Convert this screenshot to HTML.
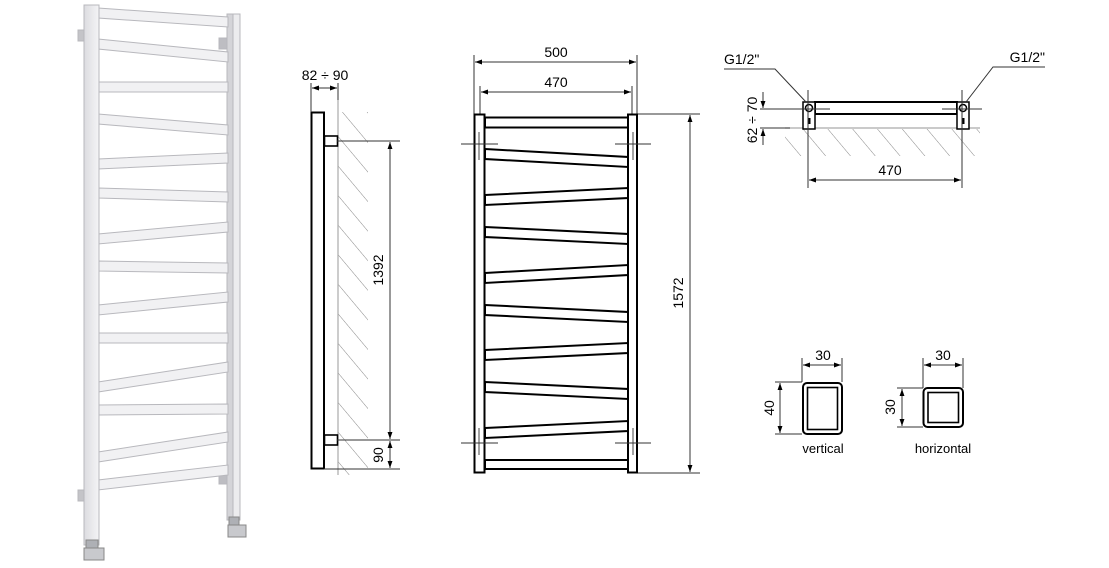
<!DOCTYPE html>
<html><head><meta charset="utf-8"><style>
html,body{margin:0;padding:0;background:#fff;}
svg{display:block;font-family:"Liberation Sans","DejaVu Sans",sans-serif;}
</style></head><body>
<svg width="1109" height="568" viewBox="0 0 1109 568" xmlns="http://www.w3.org/2000/svg">
<defs>
<marker id="a" viewBox="0 0 10 10" refX="10" refY="5" markerWidth="9" markerHeight="7" orient="auto-start-reverse" markerUnits="userSpaceOnUse"><path d="M0,1.5 L10,5 L0,8.5z" fill="#000"/></marker>
<pattern id="h" width="19" height="19" patternUnits="userSpaceOnUse" patternTransform="rotate(-40)"><line x1="0" y1="0" x2="0" y2="19" stroke="#888" stroke-width="1"/></pattern>
<linearGradient id="v" x1="0" x2="1"><stop offset="0" stop-color="#dcdce0"/><stop offset="1" stop-color="#f4f4f6"/></linearGradient>
</defs>

<!-- PHOTO -->
<g stroke="#b8b8bd" stroke-width="1">
<rect x="78" y="30" width="7" height="11" fill="#c4c4c8"/>
<rect x="78" y="490" width="7" height="11" fill="#c4c4c8"/>
<rect x="219" y="38" width="9" height="11" fill="#bdbdc2"/>
<rect x="219" y="473" width="9" height="11" fill="#bdbdc2"/>
<rect x="227" y="14" width="13" height="506" fill="#d4d4d8"/>
<rect x="233" y="14" width="7" height="506" fill="#ececee"/>
<g fill="#f1f1f3">
<polygon points="98,8 228,17 228,27 98,18"/>
<polygon points="98,39 228,52 228,62 98,49"/>
<polygon points="98,82 228,82 228,92 98,92"/>
<polygon points="98,114 228,125 228,135 98,124"/>
<polygon points="98,159 228,153 228,163 98,169"/>
<polygon points="98,188 228,192 228,202 98,198"/>
<polygon points="98,234 228,222 228,232 98,244"/>
<polygon points="98,261 228,263 228,273 98,271"/>
<polygon points="98,305 228,292 228,302 98,315"/>
<polygon points="98,333 228,333 228,343 98,343"/>
<polygon points="98,382 228,362 228,372 98,392"/>
<polygon points="98,405 228,404 228,414 98,415"/>
<polygon points="98,452 228,432 228,442 98,462"/>
<polygon points="98,480 228,465 228,475 98,490"/>
</g>
<rect x="84" y="5" width="15" height="540" fill="url(#v)"/>
</g>
<g fill="#aeb0b5" stroke="#888">
<rect x="86" y="540" width="12" height="10"/>
<rect x="84" y="548" width="20" height="12" fill="#c8c9cd"/>
<rect x="229" y="517" width="10" height="9"/>
<rect x="228" y="525" width="18" height="12" fill="#c8c9cd"/>
</g>

<!-- SIDE VIEW -->
<g>
<rect x="338" y="112" width="30" height="363" fill="url(#h)"/>
<rect x="338" y="100" width="30" height="12" fill="#fff"/>
<line x1="338" y1="100" x2="338" y2="475" stroke="#aaa" stroke-width="1.2"/>
<rect x="311.5" y="112.5" width="12.5" height="356" fill="#fff" stroke="#000" stroke-width="2"/>
<rect x="324.5" y="136" width="13" height="10" fill="#fff" stroke="#000" stroke-width="1.6"/>
<rect x="324.5" y="435" width="13" height="10" fill="#fff" stroke="#000" stroke-width="1.6"/>
<g stroke="#333" stroke-width="1" fill="none">
<line x1="311" y1="83" x2="311" y2="112"/><line x1="338" y1="83" x2="338" y2="100"/>
<line x1="312" y1="88" x2="337" y2="88" marker-start="url(#a)" marker-end="url(#a)"/>
<line x1="337" y1="141" x2="400" y2="141"/><line x1="337" y1="440" x2="400" y2="440"/><line x1="324" y1="469" x2="400" y2="469"/>
<line x1="390" y1="142" x2="390" y2="439" marker-start="url(#a)" marker-end="url(#a)"/>
<line x1="390" y1="441" x2="390" y2="468" marker-start="url(#a)" marker-end="url(#a)"/>
</g>
<text x="325" y="80" font-size="14" text-anchor="middle">82 ÷ 90</text>
<text transform="translate(383,270) rotate(-90)" font-size="14" text-anchor="middle">1392</text>
<text transform="translate(383,455) rotate(-90)" font-size="14" text-anchor="middle">90</text>
</g>

<!-- FRONT VIEW -->
<g>
<g stroke="#333" stroke-width="1" fill="none">
<line x1="474" y1="55" x2="474" y2="114"/><line x1="637" y1="55" x2="637" y2="114"/>
<line x1="480" y1="86" x2="480" y2="114"/><line x1="632" y1="86" x2="632" y2="114"/>
<line x1="475" y1="62" x2="636" y2="62" marker-start="url(#a)" marker-end="url(#a)"/>
<line x1="481" y1="92" x2="631" y2="92" marker-start="url(#a)" marker-end="url(#a)"/>
<line x1="637" y1="114" x2="700" y2="114"/><line x1="637" y1="473" x2="700" y2="473"/>
<line x1="690" y1="115" x2="690" y2="472" marker-start="url(#a)" marker-end="url(#a)"/>
</g>
<text x="556" y="57" font-size="14" text-anchor="middle">500</text>
<text x="556" y="87" font-size="14" text-anchor="middle">470</text>
<text transform="translate(683,293) rotate(-90)" font-size="14" text-anchor="middle">1572</text>
<g stroke="#000" stroke-width="2" fill="#fff">
<rect x="485" y="117.5" width="143" height="10"/>
<rect x="485" y="460" width="143" height="9"/>
<polygon points="485,149 628,157 628,167 485,159"/>
<polygon points="485,195 628,188 628,198 485,205"/>
<polygon points="485,227 628,234 628,244 485,237"/>
<polygon points="485,273 628,265 628,275 485,283"/>
<polygon points="485,305 628,312 628,322 485,315"/>
<polygon points="485,350 628,343 628,353 485,360"/>
<polygon points="485,382 628,389 628,399 485,392"/>
<polygon points="485,428 628,421 628,431 485,438"/>
<rect x="474.5" y="114.5" width="10" height="358"/>
<rect x="628" y="114.5" width="9" height="358"/>
</g>
<g stroke="#333" stroke-width="0.9">
<line x1="461" y1="144" x2="498" y2="144"/><line x1="615" y1="144" x2="651" y2="144"/>
<line x1="461" y1="443" x2="498" y2="443"/><line x1="615" y1="443" x2="651" y2="443"/>
<line x1="479" y1="428" x2="479" y2="455"/><line x1="633" y1="428" x2="633" y2="455"/>
<line x1="479" y1="132" x2="479" y2="160"/><line x1="633" y1="132" x2="633" y2="160"/>
</g>
</g>

<!-- TOP RIGHT VIEW -->
<g>
<rect x="785" y="129" width="195" height="27" fill="url(#h)"/>
<line x1="785" y1="128" x2="980" y2="128" stroke="#aaa" stroke-width="1.2"/>
<rect x="815" y="102" width="142" height="12" fill="#fff" stroke="#000" stroke-width="2"/>
<g stroke="#000" stroke-width="1.5" fill="#fff">
<rect x="803" y="102" width="12" height="27"/><rect x="957" y="102" width="12" height="27"/>
<circle cx="809" cy="108" r="3.5"/><circle cx="963" cy="108" r="3.5"/>
</g>
<rect x="807.5" y="118" width="3" height="6" fill="#000"/><rect x="961.5" y="118" width="3" height="6" fill="#000"/>
<g stroke="#333" stroke-width="1" fill="none">
<line x1="808" y1="90" x2="808" y2="188"/><line x1="962" y1="90" x2="962" y2="188"/>
<line x1="760" y1="109" x2="830" y2="109"/><line x1="942" y1="109" x2="982" y2="109"/>
<line x1="760" y1="128" x2="790" y2="128"/>
<line x1="763" y1="92" x2="763" y2="108" marker-end="url(#a)"/>
<line x1="763" y1="145" x2="763" y2="129" marker-end="url(#a)"/>
<line x1="809" y1="180" x2="961" y2="180" marker-start="url(#a)" marker-end="url(#a)"/>
<polyline points="724,69 775,69 806,102"/>
<polyline points="1045,67 993,67 966,102"/>
</g>
<text x="724" y="64" font-size="14">G1/2"</text>
<text x="1045" y="62" font-size="14" text-anchor="end">G1/2"</text>
<text transform="translate(757,120) rotate(-90)" font-size="14" text-anchor="middle">62 ÷ 70</text>
<text x="890" y="175" font-size="14" text-anchor="middle">470</text>
</g>

<!-- PROFILES -->
<g>
<g stroke="#333" stroke-width="1" fill="none">
<line x1="802" y1="358" x2="802" y2="382"/><line x1="842" y1="358" x2="842" y2="382"/>
<line x1="803" y1="365" x2="841" y2="365" marker-start="url(#a)" marker-end="url(#a)"/>
<line x1="775" y1="382" x2="802" y2="382"/><line x1="775" y1="434" x2="802" y2="434"/>
<line x1="780" y1="383" x2="780" y2="433" marker-start="url(#a)" marker-end="url(#a)"/>
<line x1="923" y1="358" x2="923" y2="388"/><line x1="963" y1="358" x2="963" y2="388"/>
<line x1="924" y1="365" x2="962" y2="365" marker-start="url(#a)" marker-end="url(#a)"/>
<line x1="897" y1="388" x2="923" y2="388"/><line x1="897" y1="427" x2="923" y2="427"/>
<line x1="902" y1="389" x2="902" y2="426" marker-start="url(#a)" marker-end="url(#a)"/>
</g>
<rect x="803" y="383" width="39" height="51" rx="4" fill="#fff" stroke="#000" stroke-width="2"/>
<rect x="807.5" y="387.5" width="30" height="42" fill="none" stroke="#000" stroke-width="1.6"/>
<rect x="923.5" y="388" width="39.5" height="39" rx="4" fill="#fff" stroke="#000" stroke-width="2"/>
<rect x="928" y="392.5" width="30.5" height="30" fill="none" stroke="#000" stroke-width="1.6"/>
<text x="823" y="360" font-size="14" text-anchor="middle">30</text>
<text x="943" y="360" font-size="14" text-anchor="middle">30</text>
<text transform="translate(774,408) rotate(-90)" font-size="14" text-anchor="middle">40</text>
<text transform="translate(895,407) rotate(-90)" font-size="14" text-anchor="middle">30</text>
<text x="823" y="453" font-size="13" text-anchor="middle">vertical</text>
<text x="943" y="453" font-size="13" text-anchor="middle">horizontal</text>
</g>
</svg>
</body></html>
